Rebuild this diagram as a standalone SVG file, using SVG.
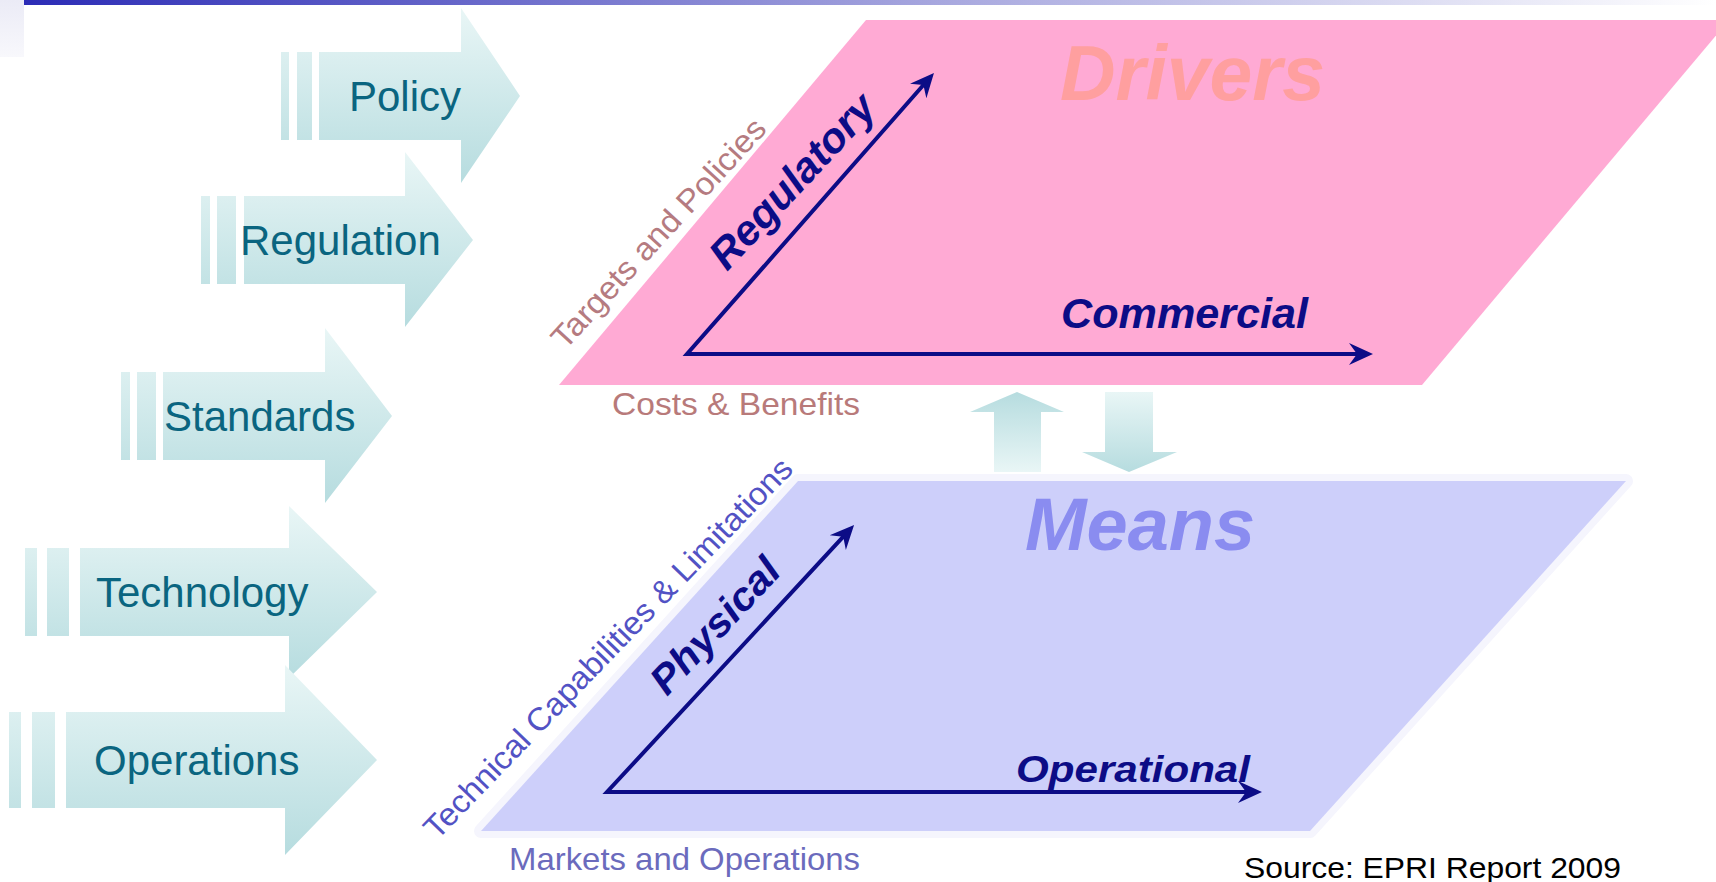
<svg xmlns="http://www.w3.org/2000/svg" width="1716" height="882" viewBox="0 0 1716 882">
<style>
.lbl{font-family:"Liberation Sans",Arial,sans-serif;font-size:42px;fill:#0a6580}
.ax{font-family:"Liberation Sans",Arial,sans-serif;font-weight:bold;font-style:italic;fill:#0c0c86}
.side{font-family:"Liberation Sans",Arial,sans-serif;font-size:32px}
.axis{fill:none;stroke:#0c0c86;stroke-width:4;stroke-linejoin:miter;marker-start:url(#ah);marker-end:url(#ah)}
</style>
<defs>
<linearGradient id="gv" x1="0" y1="0" x2="0" y2="1">
<stop offset="0" stop-color="#e9f6f6"/>
<stop offset="1" stop-color="#b6dcdf"/>
</linearGradient>
<linearGradient id="gvr" x1="0" y1="0" x2="0" y2="1">
<stop offset="0" stop-color="#b6dcdf"/>
<stop offset="1" stop-color="#e9f6f6"/>
</linearGradient>
<linearGradient id="topbar" x1="0" y1="0" x2="1" y2="0">
<stop offset="0" stop-color="#2c2cb6"/>
<stop offset="0.55" stop-color="#a9a9df"/>
<stop offset="1" stop-color="#ffffff"/>
</linearGradient>
<linearGradient id="corner" x1="0" y1="0" x2="0" y2="1">
<stop offset="0" stop-color="#ebebf6"/>
<stop offset="1" stop-color="#f8f8fc"/>
</linearGradient>
<marker id="ah" markerUnits="userSpaceOnUse" markerWidth="26" markerHeight="24" refX="18" refY="12" orient="auto-start-reverse">
<path d="M0,1 L24,12 L0,23 L8,12 z" fill="#0c0c86"/>
</marker>
</defs>
<rect width="1716" height="882" fill="#ffffff"/>
<g id="header">
<rect x="0" y="0" width="24" height="57" fill="url(#corner)"/>
<rect x="24" y="0" width="1692" height="5" fill="url(#topbar)"/>
</g>
<g id="policy">
<path d="M281,52 H289 V140 H281 Z M297,52 H312 V140 H297 Z M319,52 H461 V8 L520,96 L461,183 V140 H319 Z" fill="url(#gv)"/>
<text class="lbl" x="349" y="111">Policy</text>
</g>
<g id="regulation">
<path d="M201,196 H210 V284 H201 Z M217,196 H236 V284 H217 Z M244,196 H405 V152 L473,240 L405,327 V284 H244 Z" fill="url(#gv)"/>
<text class="lbl" x="240" y="255">Regulation</text>
</g>
<g id="standards">
<path d="M121,372 H130 V460 H121 Z M137,372 H156 V460 H137 Z M163,372 H325 V328 L392,416 L325,503 V460 H163 Z" fill="url(#gv)"/>
<text class="lbl" x="164" y="431">Standards</text>
</g>
<g id="technology">
<path d="M25,548 H37 V636 H25 Z M47,548 H69 V636 H47 Z M80,548 H289 V506 L377,592 L289,678 V636 H80 Z" fill="url(#gv)"/>
<text class="lbl" x="96" y="607">Technology</text>
</g>
<g id="operations">
<path d="M9,712 H21 V808 H9 Z M32,712 H55 V808 H32 Z M66,712 H285 V665 L377,760 L285,855 V808 H66 Z" fill="url(#gv)"/>
<text class="lbl" x="94" y="775">Operations</text>
</g>
<g id="drivers">
<polygon points="866,20 1729,20 1422,385 559,385" fill="#ffaad4"/>
<text x="1060" y="100" font-family="Liberation Sans, Arial, sans-serif" font-weight="bold" font-style="italic" font-size="78" fill="#ff9f9f" textLength="265" lengthAdjust="spacingAndGlyphs">Drivers</text>
<path class="axis" d="M930,77.5 L687,354 L1367,354"/>
<text class="ax" font-size="42" transform="translate(727,272) rotate(-47)" textLength="222" lengthAdjust="spacingAndGlyphs">Regulatory</text>
<text class="ax" font-size="42" x="1061" y="328" textLength="247" lengthAdjust="spacingAndGlyphs">Commercial</text>
<text class="side" fill="#b57b80" transform="translate(565,351) rotate(-47.4)" textLength="300" lengthAdjust="spacingAndGlyphs">Targets and Policies</text>
<text class="side" font-size="35" fill="#b87a7a" x="612" y="415" textLength="248" lengthAdjust="spacingAndGlyphs">Costs &amp; Benefits</text>
</g>
<g id="means">
<polygon points="798,481 1626,481 1310,831 481,831" fill="none" stroke="#f5f5fd" stroke-width="14" stroke-linejoin="round"/>
<polygon points="798,481 1626,481 1310,831 481,831" fill="#cdcffa"/>
<text x="1025" y="550" font-family="Liberation Sans, Arial, sans-serif" font-weight="bold" font-style="italic" font-size="74" fill="#8a8cf0" textLength="230" lengthAdjust="spacingAndGlyphs">Means</text>
<path class="axis" d="M850,529.4 L607,792 L1256,792"/>
<text class="ax" font-size="40" transform="translate(667,697) rotate(-47)" textLength="170" lengthAdjust="spacingAndGlyphs">Physical</text>
<text class="ax" font-size="36" x="1016" y="782" textLength="234" lengthAdjust="spacingAndGlyphs">Operational</text>
<text class="side" fill="#5252c4" transform="translate(437,841) rotate(-46)" textLength="515" lengthAdjust="spacingAndGlyphs">Technical Capabilities &amp; Limitations</text>
<text class="side" font-size="35" fill="#6b6bbd" x="509" y="870" textLength="351" lengthAdjust="spacingAndGlyphs">Markets and Operations</text>
</g>
<g id="connectors">
<path d="M994,472 V412 H970 L1017,392 L1064,412 H1041 V472 Z" fill="url(#gvr)"/>
<path d="M1105,392 H1153 V452 H1177 L1129,472 L1082,452 H1105 Z" fill="url(#gv)"/>
</g>
<g id="source">
<text x="1244" y="878" font-family="Liberation Sans, Arial, sans-serif" font-size="30" fill="#000000" textLength="377" lengthAdjust="spacingAndGlyphs">Source: EPRI Report 2009</text>
</g>
</svg>
